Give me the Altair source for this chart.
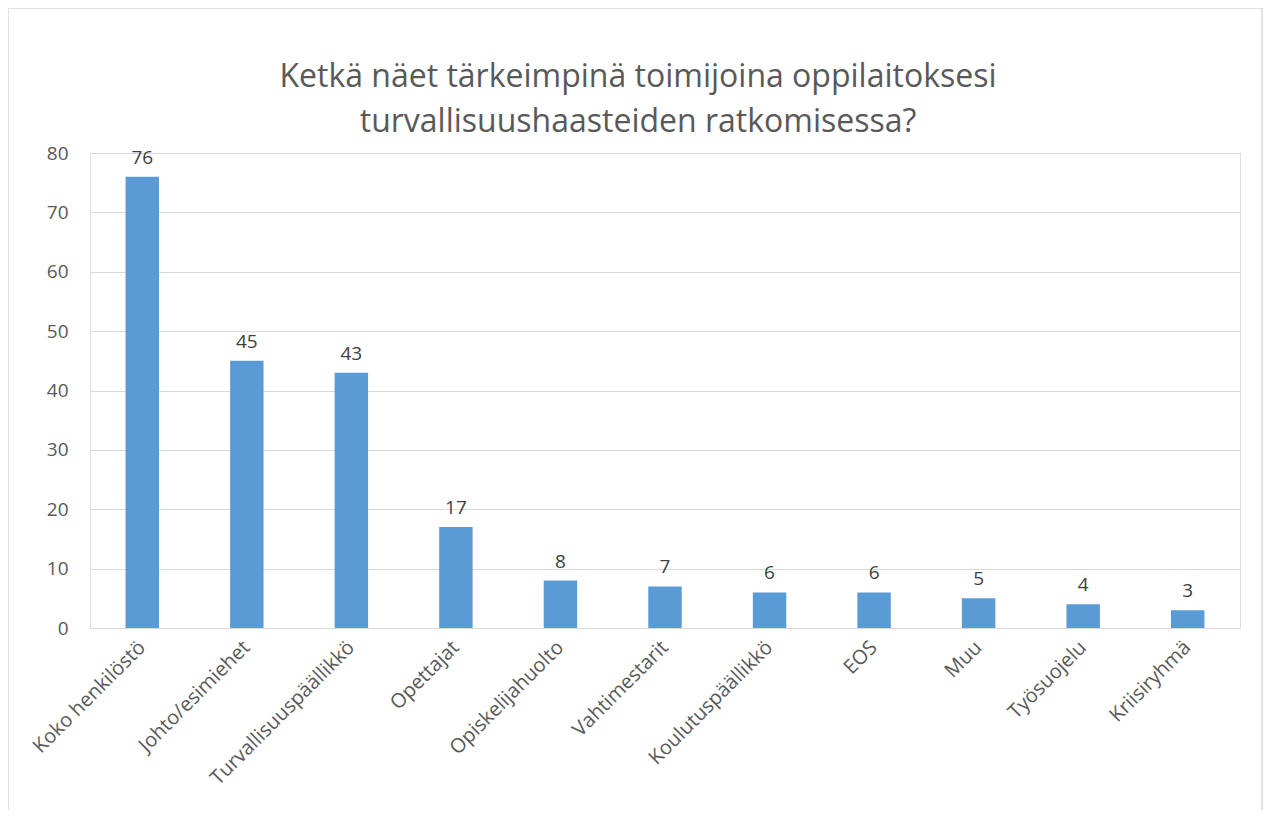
import altair as alt
import pandas as pd

categories = ["Koko henkilöstö", "Johto/esimiehet", "Turvallisuuspäällikkö", "Opettajat",
              "Opiskelijahuolto", "Vahtimestarit", "Koulutuspäällikkö", "EOS", "Muu",
              "Työsuojelu", "Kriisiryhmä"]
values = [76, 45, 43, 17, 8, 7, 6, 6, 5, 4, 3]
y_ticks = [0, 10, 20, 30, 40, 50, 60, 70, 80]
title_line_1 = "Ketkä näet tärkeimpinä toimijoina oppilaitoksesi"
title_line_2 = "turvallisuushaasteiden ratkomisessa?"

df = pd.DataFrame({"cat": categories, "val": values})

FONT = "Open Sans"
GREY = "#595959"

x_enc = alt.X("cat:N", sort=categories, title=None,
              scale=alt.Scale(paddingInner=0.68, paddingOuter=0.34),
              axis=alt.Axis(labelAngle=-45, labelAlign="right", labelBaseline="middle",
                            labelFontSize=20, labelColor=GREY, labelFont=FONT, labelLimit=400,
                            ticks=False, domain=False, labelPadding=16, labelOffset=0))
y_enc = alt.Y("val:Q", title=None,
              scale=alt.Scale(domain=[0, 80], nice=False),
              axis=alt.Axis(values=y_ticks, grid=True, gridColor="#d9d9d9", gridWidth=1,
                            domain=False, ticks=False, labelFontSize=19, labelColor=GREY,
                            labelFont=FONT, labelPadding=22))

bars = alt.Chart(df).mark_bar(color="#5B9BD5").encode(x=x_enc, y=y_enc)
labels = alt.Chart(df).mark_text(dy=-19, fontSize=19, color="#404040", font=FONT).encode(
    x=alt.X("cat:N", sort=categories), y="val:Q", text="val:Q")

one = pd.DataFrame({"a": [0]})
border = alt.Chart(one).mark_rect(
    fill=None, stroke="#d9d9d9", strokeWidth=1.5).encode(
    x=alt.value(-82), x2=alt.value(1172), y=alt.value(-145), y2=alt.value(660))

t1 = alt.Chart(pd.DataFrame({"t": [title_line_1]})).mark_text(
    fontSize=32, font=FONT, color=GREY, baseline="middle", align="center").encode(
    text="t:N", x=alt.value(548), y=alt.value(-76))
t2 = alt.Chart(pd.DataFrame({"t": [title_line_2]})).mark_text(
    fontSize=32, font=FONT, color=GREY, baseline="middle", align="center").encode(
    text="t:N", x=alt.value(548), y=alt.value(-31))

chart = alt.layer(border, bars, labels, t1, t2).properties(
    width=1150, height=475,
    padding={"left": 82, "top": 145, "right": 23, "bottom": 182},
    autosize=alt.AutoSizeParams(type="none"),
).configure_view(stroke=None).configure(background="white")

chart.save("out.html", embed_options={"renderer": "svg", "actions": False})
